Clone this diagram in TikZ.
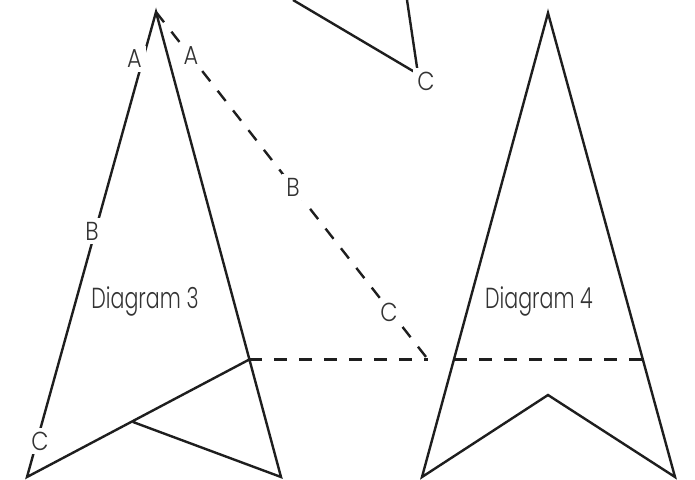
\documentclass[tikz,border=0pt]{standalone}
\usepackage{fontspec}
\newfontfamily\lblfont{Poppins}[UprightFont=* Light, FakeStretch=0.86]
\newfontfamily\ttlfont{Poppins}[UprightFont=* Light, FakeStretch=0.71]
\definecolor{ink}{HTML}{1E1E1E}
\definecolor{txt}{HTML}{333333}
\tikzset{
  edge/.style={draw=ink, line width=2.4pt, line join=miter},
  dashline/.style={draw=ink, line width=2.4pt, dash pattern=on 13pt off 12pt},
  lbl/.style={fill=white, inner sep=4pt, text=txt, font=\lblfont\fontsize{26}{26}\selectfont},
  title/.style={inner sep=0pt, text=txt, font=\ttlfont\fontsize{29}{29}\selectfont}
}
\begin{document}
\begin{tikzpicture}[x=1pt, y=-1pt]
\useasboundingbox (0,0) rectangle (695,479);
% Diagram 3
\coordinate (a3) at (156,12);
\coordinate (bl3) at (27,477);
\coordinate (br3) at (281,477);
\coordinate (m3) at (249.3,359.5);
\coordinate (p3) at (133,422);
\coordinate (d3) at (428,359.5);
\draw[edge] (m3) -- (bl3) -- (a3) -- (br3) -- (p3);
\draw[dashline] (a3) -- (d3);
\draw[dashline] (m3) -- (d3);
\node[lbl] (la) at (134.5,59) {A};
\node[lbl] (lb) at (92,231) {B};
\node[lbl] (lc) at (40,441) {C};
\node[lbl] (da) at (191,56) {A};
\node[lbl] (db) at (293,187) {B};
\node[lbl] (dc) at (389,312) {C};
\node[title] (t3) at (145,301) {Diagram 3};
% top fragment
\coordinate (t1) at (293,0);
\coordinate (t2) at (407,0);
\coordinate (tc) at (418,74);
\draw[edge] (t1) -- (tc) -- (t2);
\node[lbl] (tcl) at (426,81) {C};
% Diagram 4
\coordinate (a4) at (548,13);
\coordinate (bl4) at (422,477);
\coordinate (br4) at (675,477);
\coordinate (n4) at (548,395);
\coordinate (l4) at (454,359.5);
\coordinate (r4) at (642.5,359.5);
\draw[edge] (a4) -- (bl4) -- (n4) -- (br4) -- cycle;
\draw[dashline] (l4) -- (r4);
\node[title] (t4) at (539,301) {Diagram 4};
\end{tikzpicture}
\end{document}
